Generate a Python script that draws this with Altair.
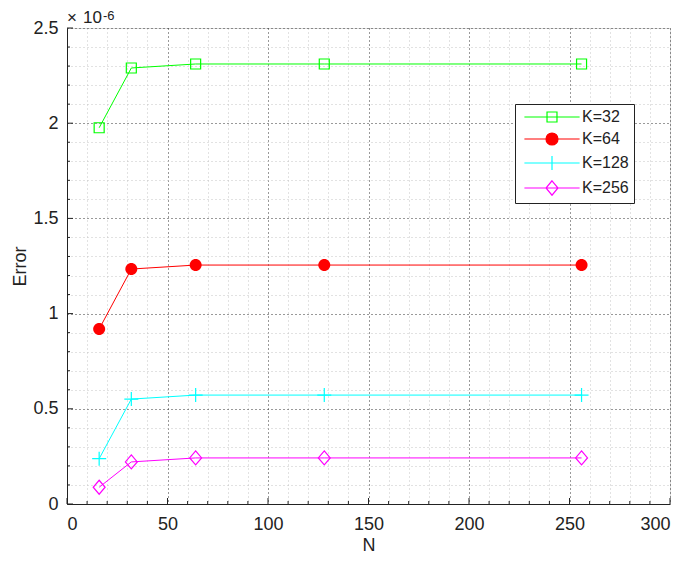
import altair as alt
import pandas as pd

# ---- data (Error values are in units of 1e-6, as on the axis) ----
N = [16, 32, 64, 128, 256]
K_labels = ["K=32", "K=64", "K=128", "K=256"]
err_k32 = [1.976, 2.290, 2.311, 2.311, 2.311]
err_k64 = [0.919, 1.234, 1.255, 1.255, 1.255]
err_k128 = [0.238, 0.551, 0.572, 0.572, 0.572]
err_k256 = [0.088, 0.221, 0.242, 0.242, 0.242]
series = [err_k32, err_k64, err_k128, err_k256]

x_ticks = list(range(0, 301, 10))
y_ticks = [round(i * 0.1, 1) for i in range(26)]
x_major = [v for v in x_ticks if v % 50 == 0]
x_minor = [v for v in x_ticks if v % 50 != 0]
y_major = [v for v in y_ticks if abs(v * 2 - round(v * 2)) < 1e-9]
y_minor = [v for v in y_ticks if abs(v * 2 - round(v * 2)) >= 1e-9]
exponent_times = ["×"]
exponent_base = ["10"]
exponent_power = ["-6"]

# ---- styles ----
colors = ["#00ff00", "#ff0000", "#00ffff", "#ff00ff"]
fills = ["transparent", "#ff0000", "transparent", "transparent"]
marker_paths = [
    "M-1,-1H1V1H-1Z",
    "M-1,0A1,1,0,1,1,1,0A1,1,0,1,1,-1,0Z",
    "M-1,0H1M0,-1V1",
    "M0,-1L0.85,0L0,1L-0.85,0Z",
]
marker_sizes = [100, 144, 196, 196]
marker_filled = [False, True, False, False]
legend_paths = [
    "M-4.6,0H4.6M-0.83,-0.83H0.83V0.83H-0.83Z",
    "M-4.6,0H4.6M-1,0A1,1,0,1,1,1,0A1,1,0,1,1,-1,0Z",
    "M-4.6,0H4.6M0,-1.17V1.17",
    "M-4.6,0H4.6M0,-1.2L1,0L0,1.2L-1,0Z",
]
FONT = "Liberation Sans"
TXT = "#222222"
W, H = 603, 476

rows = []
for k, vals in zip(K_labels, series):
    for n, v in zip(N, vals):
        rows.append({"K": k, "N": n, "Error": v})
df = pd.DataFrame(rows)

major_x = "datum.value % 50 === 0"
major_y = "abs(datum.value * 2 - round(datum.value * 2)) < 1e-6"

x_axis = alt.Axis(
    values=x_ticks,
    labelExpr=f"{major_x} ? datum.label : ''",
    grid=True,
    gridColor={"condition": {"test": major_x, "value": "#333333"}, "value": "#c4c4c4"},
    gridDash=[1, 3],
    gridWidth=1,
    domainColor=TXT,
    ticks=False,
    tickSize=0,
    labelPadding=11,
    labelFont=FONT,
    labelFontSize=18,
    labelColor=TXT,
    title="N",
    titleFont=FONT,
    titleFontSize=18,
    titleFontWeight="normal",
    titleColor=TXT,
    titlePadding=3,
)
y_axis = alt.Axis(
    values=y_ticks,
    format="~g",
    labelExpr=f"{major_y} ? datum.label : ''",
    grid=True,
    gridColor={"condition": {"test": major_y, "value": "#333333"}, "value": "#c4c4c4"},
    gridDash=[1, 3],
    gridWidth=1,
    domainColor=TXT,
    ticks=False,
    tickSize=0,
    labelPadding=9,
    labelFont=FONT,
    labelFontSize=18,
    labelColor=TXT,
    title="Error",
    titleFont=FONT,
    titleFontSize=18,
    titleFontWeight="normal",
    titleColor=TXT,
    titlePadding=3,
)

x_scale = alt.Scale(domain=[0, 300], nice=False)
y_scale = alt.Scale(domain=[0, 2.5], nice=False)


def X(field):
    return alt.X(field, scale=x_scale, axis=x_axis)


def Y(field):
    return alt.Y(field, scale=y_scale, axis=y_axis)


layers = []
# inward tick marks (MATLAB style)
for vals, length in [(x_major, 6), (x_minor, 3)]:
    layers.append(
        alt.Chart(pd.DataFrame({"v": vals})).mark_rule(color=TXT, strokeWidth=1).encode(
            x=X("v:Q"), y=alt.value(H), y2=alt.value(H - length)
        )
    )
for vals, length in [(y_major, 6), (y_minor, 3)]:
    layers.append(
        alt.Chart(pd.DataFrame({"v": vals})).mark_rule(color=TXT, strokeWidth=1).encode(
            y=Y("v:Q"), x=alt.value(0), x2=alt.value(length)
        )
    )

for i, k in enumerate(K_labels):
    sub = df[df["K"] == k]
    layers.append(
        alt.Chart(sub).mark_line(strokeWidth=1, color=colors[i]).encode(
            x=X("N:Q"), y=Y("Error:Q")
        )
    )
for i, k in enumerate(K_labels):
    sub = df[df["K"] == k]
    layers.append(
        alt.Chart(sub).mark_point(
            shape=marker_paths[i], size=marker_sizes[i], filled=marker_filled[i],
            strokeWidth=1.2, opacity=1, color=colors[i],
        ).encode(x=X("N:Q"), y=Y("Error:Q"))
    )

leg = alt.Legend(
    title=None, orient="none", legendX=448, legendY=76, direction="vertical",
    fillColor="white", strokeColor=TXT, padding=5, cornerRadius=0,
    symbolOffset=24, labelOffset=22, labelFont=FONT, labelFontSize=16,
    labelColor=TXT, rowPadding=5, symbolSize=144, symbolStrokeWidth=1.2,
)
legend_layer = alt.Chart(df).transform_filter("false").mark_point(
    size=144, strokeWidth=1.2, opacity=1
).encode(
    x=X("N:Q"), y=Y("Error:Q"),
    shape=alt.Shape("K:N", scale=alt.Scale(domain=K_labels, range=legend_paths), legend=leg, title=None),
    stroke=alt.Stroke("K:N", scale=alt.Scale(domain=K_labels, range=colors), legend=leg, title=None),
    fill=alt.Fill("K:N", scale=alt.Scale(domain=K_labels, range=fills), legend=leg, title=None),
)
layers.append(legend_layer)

for txt, fs, xpos, ypos in [
    (exponent_times, 17, 0, -5),
    (exponent_base, 17, 16, -5),
    (exponent_power, 13, 36, -8),
]:
    layers.append(
        alt.Chart(pd.DataFrame({"t": txt})).mark_text(
            align="left", baseline="alphabetic", font=FONT, fontSize=fs, color=TXT
        ).encode(text="t:N", x=alt.value(xpos), y=alt.value(ypos))
    )

chart = alt.layer(*layers).properties(
    width=W, height=H,
    autosize=alt.AutoSizeParams(type="none"),
    padding={"left": 59, "top": 20, "right": 7, "bottom": 51},
).configure_view(stroke="transparent").configure(background="white")

chart.save("out.html", embed_options={"renderer": "svg", "actions": False})
